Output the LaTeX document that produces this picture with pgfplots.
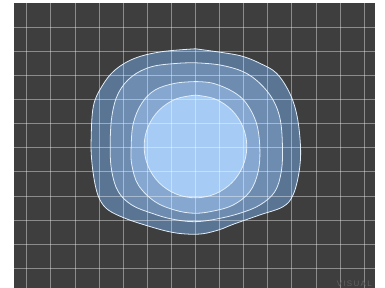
\documentclass[border=0pt]{standalone}
\usepackage{pgfplots}
\pgfplotsset{compat=1.18}
\usepackage{fontspec}
\setmainfont{Liberation Sans}
\definecolor{bgdark}{HTML}{3E3E3E}
\definecolor{cA}{HTML}{5A7594}
\definecolor{cB}{HTML}{6E8CB0}
\definecolor{cC}{HTML}{86A7CF}
\definecolor{cD}{HTML}{A6CBF4}
\definecolor{edge}{HTML}{E2EEF8}
\begin{document}
\begin{tikzpicture}[x=1bp,y=1bp]
\useasboundingbox (0,0) rectangle (385,288);
\begin{axis}[at={(14bp,0bp)}, anchor=south west,
  width=361bp, height=285bp, scale only axis,
  xmin=-7.53, xmax=7.45, ymin=-5.82, ymax=6.0,
  xtick={-7,...,7}, ytick={-5,...,5},
  xticklabels={}, yticklabels={},
  major tick length=0pt,
  grid=major,
  major grid style={white, opacity=0.40, line width=0.75pt},
  axis line style={draw=none},
  axis background/.style={fill=bgdark},
  axis on top]
\addplot[draw=edge, line width=0.8pt, fill=cA, smooth, tension=0.6] coordinates {
(0,4.10) (1.28,3.92) (1.98,3.78) (2.67,3.50) (3.36,3.09) (3.91,2.26) (4.22,1.29) (4.36,0) (4.30,-1.0) (4.05,-1.96) (3.63,-2.45) (2.67,-2.79) (1.56,-3.18) (1.0,-3.40) (0.3,-3.57) (-0.4,-3.58) (-1.12,-3.48) (-2.09,-3.21) (-2.92,-2.93) (-3.61,-2.59) (-3.96,-2.17) (-4.16,-1.55) (-4.30,-0.58) (-4.33,0.3) (-4.24,1.70) (-3.89,2.53) (-3.34,3.22) (-2.51,3.71) (-1.40,3.98) (0,4.10)
};
\addplot[draw=edge, line width=0.8pt, fill=cB, smooth, tension=0.6] coordinates {
(0.0,3.52) (1.01,3.43) (1.98,3.15) (2.67,2.67) (3.22,1.98) (3.52,1.15) (3.61,0) (3.56,-1.0) (3.29,-1.83) (2.67,-2.38) (1.84,-2.72) (0.87,-2.96) (-0.05,-3.07) (-0.98,-2.96) (-1.81,-2.72) (-2.64,-2.38) (-3.20,-1.83) (-3.47,-1.0) (-3.54,0) (-3.47,1.29) (-3.20,2.26) (-2.64,2.95) (-1.81,3.36) (-0.71,3.50) (0,3.52)
};
\addplot[draw=edge, line width=0.8pt, fill=cC, smooth, tension=0.6] coordinates {
(0.0,2.74) (0.73,2.67) (1.56,2.32) (2.11,1.84) (2.53,1.01) (2.67,0) (2.60,-1.0) (2.25,-1.83) (1.56,-2.38) (0.73,-2.63) (-0.05,-2.72) (-0.85,-2.59) (-1.68,-2.24) (-2.37,-1.55) (-2.64,-0.72) (-2.67,0) (-2.58,1.01) (-2.23,1.84) (-1.68,2.39) (-0.85,2.67) (0,2.74)
};
\addplot[draw=edge, line width=0.8pt, fill=cD, smooth, tension=0.6] coordinates {
(0,2.18) (0.815,2.018) (1.506,1.556) (1.968,0.865) (2.13,0.05) (1.968,-0.765) (1.506,-1.456) (0.815,-1.918) (0,-2.08) (-0.815,-1.918) (-1.506,-1.456) (-1.968,-0.765) (-2.13,0.05) (-1.968,0.865) (-1.506,1.556) (-0.815,2.018) (0,2.18)
};
\end{axis}
\node[anchor=base east, text=black!62, inner sep=0pt] at (372,1.2) {\fontsize{8}{8}\selectfont V\,I\,S\,U\,A\,L};
\end{tikzpicture}
\end{document}
